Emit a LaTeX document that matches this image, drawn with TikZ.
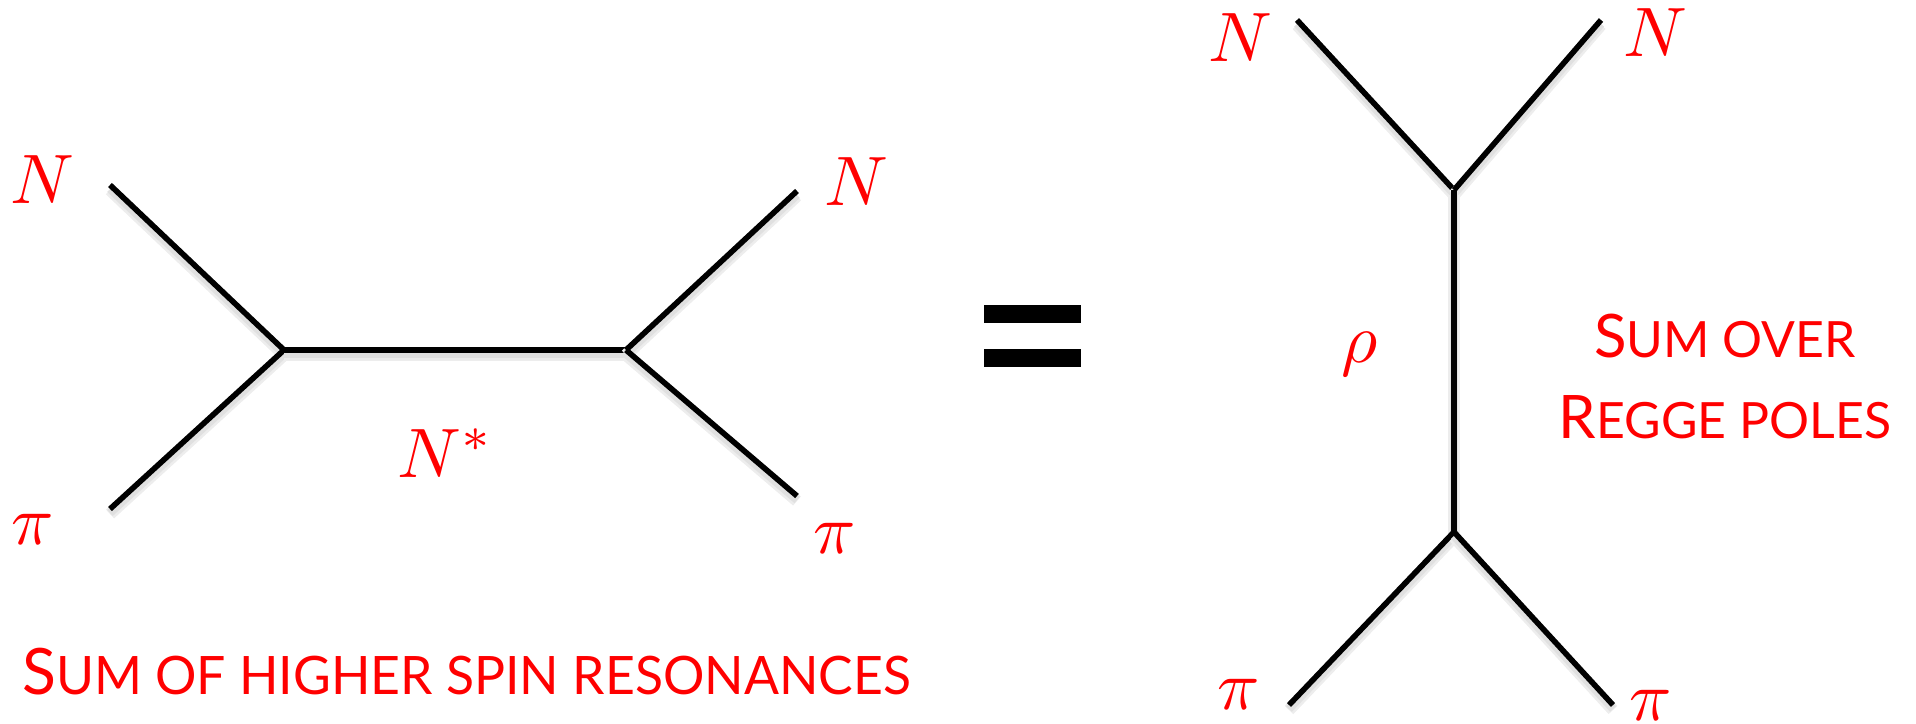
\documentclass[tikz,border=0pt]{standalone}
\usepackage{graphicx}
\usepackage{fontspec}
\newfontfamily\gill{Lato}
\newcommand{\hugemath}[1]{\scalebox{7}{$#1$}}
\begin{document}
\begin{tikzpicture}[x=1pt,y=-1pt,
  leg/.style={line width=5.6pt, draw=black,
    preaction={draw=black!7, line width=12pt, transform canvas={yshift=-5pt}},
    preaction={draw=black!12, line width=8pt, transform canvas={yshift=-4pt}}},
  lbl/.style={text=red, inner sep=0pt, anchor=base},
  captxt/.style={text=red, inner sep=0pt, font=\gill},
  bar/.style={fill=black, inner sep=0pt, minimum width=97pt, minimum height=18pt}]
\useasboundingbox (0,0) rectangle (1916,723);
% left diagram (s-channel)
\coordinate (a) at (110,185);
\coordinate (b) at (110,509);
\coordinate (v1) at (284,350);
\coordinate (v2) at (626,350);
\coordinate (c) at (797,191);
\coordinate (d) at (797,496);
\draw[leg] (a) -- (v1);
\draw[leg] (b) -- (v1);
\draw[leg] (v1) -- (v2);
\draw[leg] (v2) -- (c);
\draw[leg] (v2) -- (d);
\node[lbl] (nL) at (42,203) {\hugemath{N}};
\node[lbl] (piL) at (33,544) {\hugemath{\pi}};
\node[lbl] (nR) at (856,205) {\hugemath{N}};
\node[lbl] (piR) at (835,553) {\hugemath{\pi}};
\node[lbl] (nstar) at (445.5,477) {\hugemath{N^*}};
\node[captxt, anchor=base west] (sumL) at (22,694)
  {\scalebox{0.976}[1]{{\fontsize{64}{70}\selectfont S}{\fontsize{53}{60}\selectfont UM OF HIGHER SPIN RESONANCES}}};
% equals sign
\node[bar] (eq1) at (1032.5,314) {};
\node[bar] (eq2) at (1032.5,358) {};
% right diagram (t-channel)
\coordinate (tl) at (1297,20);
\coordinate (tr) at (1601,20);
\coordinate (w1) at (1454,190);
\coordinate (w2) at (1454,532);
\coordinate (bl) at (1289,705);
\coordinate (br) at (1613,705);
\draw[leg] (tl) -- (w1);
\draw[leg] (tr) -- (w1);
\draw[leg] (w1) -- (w2);
\draw[leg] (w2) -- (bl);
\draw[leg] (w2) -- (br);
\node[lbl] (nTL) at (1240,61) {\hugemath{N}};
\node[lbl] (nTR) at (1655,56) {\hugemath{N}};
\node[lbl] (piBL) at (1239,709) {\hugemath{\pi}};
\node[lbl] (piBR) at (1651,720) {\hugemath{\pi}};
\node[lbl] (rho) at (1360,362) {\hugemath{\rho}};
\node[captxt, anchor=base] (sum1) at (1725,357)
  {{\fontsize{60}{66}\selectfont S}{\fontsize{50}{56}\selectfont UM OVER}};
\node[captxt, anchor=base] (sum2) at (1725,438)
  {{\fontsize{60}{66}\selectfont R}{\fontsize{50}{56}\selectfont EGGE POLES}};
\end{tikzpicture}
\end{document}
